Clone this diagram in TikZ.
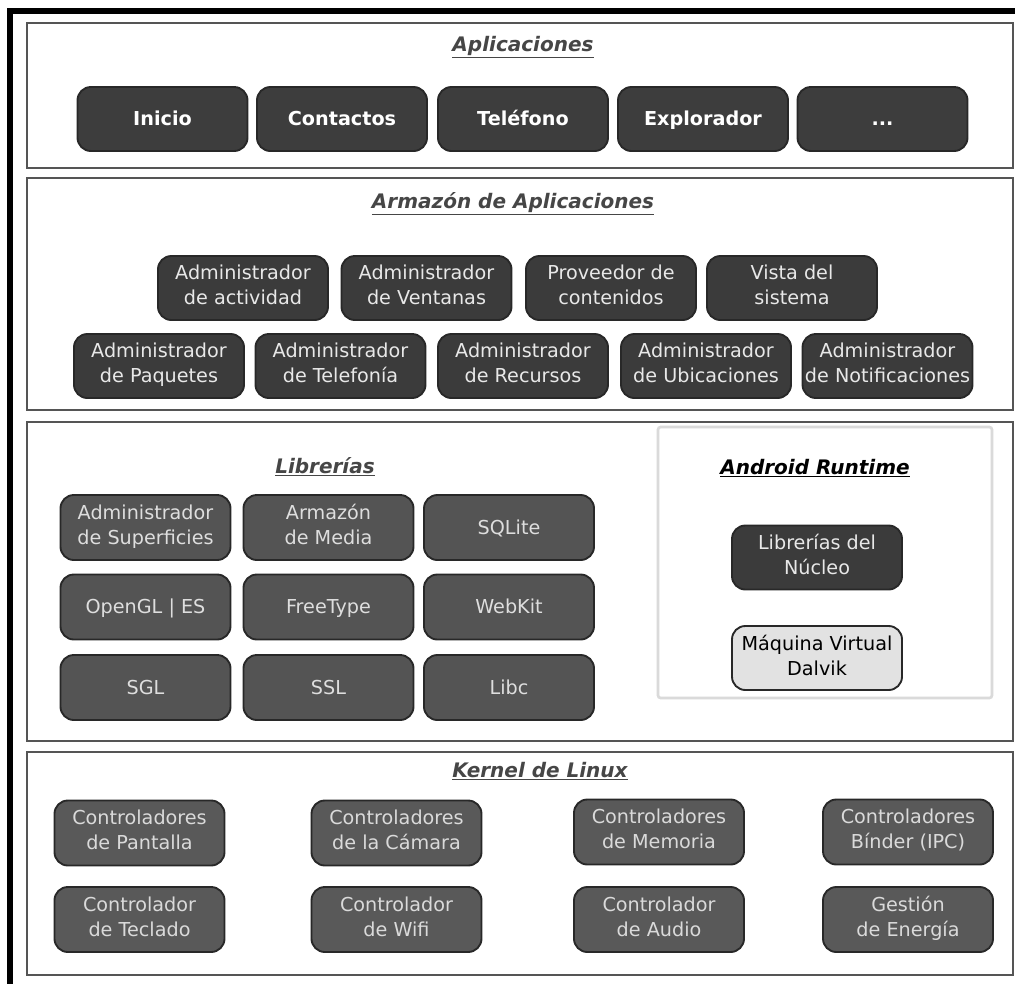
\documentclass[tikz,border=0pt]{standalone}
\usepackage{fontspec}
\setmainfont{DejaVu Sans}
\usepackage{tikz}
\newcommand{\boxstrut}{\rule[-0.3em]{0pt}{1.3em}}

\begin{document}
\begin{tikzpicture}[x=0.75pt,y=0.75pt,yscale=-1,xscale=1,
  panel/.style={draw={rgb, 255:red, 85; green, 85; blue, 85 }, line width=2.2pt, fill=white},
  box/.style={draw={rgb, 255:red, 40; green, 40; blue, 40 }, line width=1.4pt, rounded corners=10pt,
    minimum width=127.5pt, minimum height=48pt, inner sep=0pt, align=center,
    execute at begin node={\boxstrut}, execute at end node={\boxstrut},
    font=\fontsize{14.4}{18.8}\selectfont},
  appbox/.style={box, fill={rgb, 255:red, 61; green, 61; blue, 61 }, text=white, font=\fontsize{14.4}{18.8}\selectfont\bfseries},
  fwbox/.style={box, fill={rgb, 255:red, 59; green, 59; blue, 59 }, text={rgb, 255:red, 232; green, 232; blue, 232 }},
  libbox/.style={box, fill={rgb, 255:red, 84; green, 84; blue, 84 }, text={rgb, 255:red, 222; green, 222; blue, 222 }, minimum height=48.75pt},
  kbox/.style={box, fill={rgb, 255:red, 89; green, 89; blue, 89 }, text={rgb, 255:red, 218; green, 218; blue, 218 }, minimum height=48.75pt},
  layertitle/.style={inner sep=0.75pt, text={rgb, 255:red, 70; green, 70; blue, 70 }, font=\fontsize{15}{18}\selectfont\bfseries\itshape}
]
%uncomment if require: \path (0,983); %set diagram left start at 0, and has height of 983
\clip (0,0) rectangle (1015,983);
\fill[white] (0,0) rectangle (1015,983);

%Shape: Outer Frame
\draw [line width=4.5pt]  (10,1000) -- (10,11) -- (1030,11) ;

%Shape: Rectangle
\draw [panel] (27,23) rectangle (1013,168) ;
%Shape: Rectangle
\draw [panel] (27,178) rectangle (1013,410) ;
%Shape: Rectangle
\draw [panel] (27,422) rectangle (1013,741) ;
%Shape: Rectangle
\draw [panel] (27,752) rectangle (1013,975) ;
%Shape: Rectangle
\draw [draw={rgb, 255:red, 218; green, 218; blue, 218 }, line width=2pt, rounded corners=2pt] (658,427) rectangle (992,698) ;

% Text Node
\node [layertitle] (tapps) at (523,47) {\underline{Aplicaciones}};
% Text Node
\node [layertitle] (tarmazon) at (513,204) {\underline{Armazón de Aplicaciones}};
% Text Node
\node [layertitle] (tlib) at (325,467) {\underline{Librerías}};
% Text Node
\node [layertitle, text=black] (truntime) at (815,468) {\underline{Android Runtime}};
% Text Node
\node [layertitle] (tkernel) at (540,771) {\underline{Kernel de Linux}};

% Aplicaciones
\node [appbox] (inicio) at (162.5,119) {Inicio};
\node [appbox] (contactos) at (342,119) {Contactos};
\node [appbox] (telefono) at (523,119) {Teléfono};
\node [appbox] (explorador) at (703,119) {Explorador};
\node [appbox] (masapps) at (882.5,119) {...};

% Armazon de Aplicaciones
\node [fwbox] (actividad) at (243,288) {Administrador\\de actividad};
\node [fwbox] (ventanas) at (426.5,288) {Administrador\\de Ventanas};
\node [fwbox] (proveedor) at (611,288) {Proveedor de\\contenidos};
\node [fwbox] (vista) at (792,288) {Vista del\\sistema};
\node [fwbox] (paquetes) at (159,366) {Administrador\\de Paquetes};
\node [fwbox] (telefonia) at (340.5,366) {Administrador\\de Telefonía};
\node [fwbox] (recursos) at (523,366) {Administrador\\de Recursos};
\node [fwbox] (ubicaciones) at (706,366) {Administrador\\de Ubicaciones};
\node [fwbox] (notificaciones) at (887.5,366) {Administrador\\de Notificaciones};

% Librerias
\node [libbox] (superficies) at (145.5,527.5) {Administrador\\de Superficies};
\node [libbox] (media) at (328.5,527.5) {Armazón\\de Media};
\node [libbox] (sqlite) at (509,527.5) {SQLite};
\node [libbox] (opengl) at (145.5,607) {OpenGL | ES};
\node [libbox] (freetype) at (328.5,607) {FreeType};
\node [libbox] (webkit) at (509,607) {WebKit};
\node [libbox] (sgl) at (145.5,687.5) {SGL};
\node [libbox] (ssl) at (328.5,687.5) {SSL};
\node [libbox] (libc) at (509,687.5) {Libc};

% Android Runtime
\node [fwbox] (nucleo) at (817,557.5) {Librerías del\\Núcleo};
\node [box, fill={rgb, 255:red, 226; green, 226; blue, 226 }, text=black] (dalvik) at (817,658) {Máquina Virtual\\Dalvik};

% Kernel de Linux
\node [kbox] (pantalla) at (139.5,833) {Controladores\\de Pantalla};
\node [kbox] (camara) at (396.5,833) {Controladores\\de la Cámara};
\node [kbox] (memoria) at (659,832) {Controladores\\de Memoria};
\node [kbox] (binder) at (908,832) {Controladores\\Bínder (IPC)};
\node [kbox] (teclado) at (139.5,919.5) {Controlador\\de Teclado};
\node [kbox] (wifi) at (396.5,919.5) {Controlador\\de Wifi};
\node [kbox] (audio) at (659,919.5) {Controlador\\de Audio};
\node [kbox] (energia) at (908,919.5) {Gestión\\de Energía};

\end{tikzpicture}
\end{document}
